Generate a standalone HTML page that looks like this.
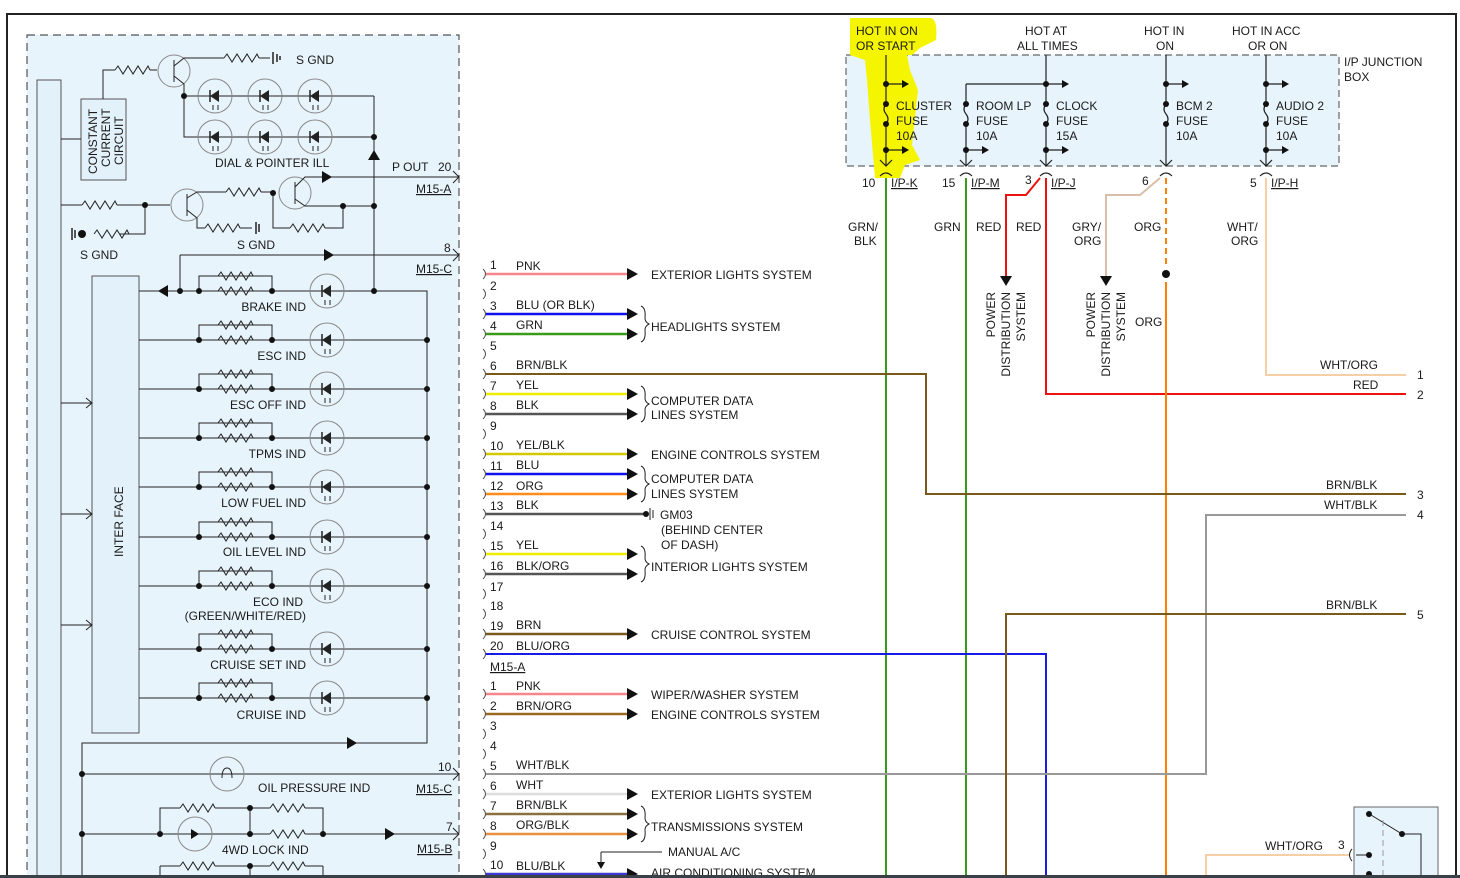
<!DOCTYPE html>
<html><head><meta charset="utf-8"><style>
html,body{margin:0;padding:0;background:#fff;width:1460px;height:878px;overflow:hidden}
svg{display:block}
text{font-family:"Liberation Sans",sans-serif;font-size:12px;fill:#1a1a1a}
</style></head><body>
<svg width="1460" height="878" viewBox="0 0 1460 878" xmlns="http://www.w3.org/2000/svg">
<defs>
<path id="res" d="M0 0 l3 -4 l5 8 l5 -8 l5 8 l5 -8 l5 8 l5 -8 l2 4" fill="none" stroke="#222" stroke-width="1"/>
<g id="led"><circle r="17" fill="none" stroke="#888" stroke-width="1"/><path d="M-5 0 L4 -6 L4 6Z" fill="#222"/><path d="M-5 -6 V6" stroke="#222" stroke-width="1.5"/><path d="M-2 9 v5 M3 9 v5" stroke="#222" stroke-width="1"/></g>
<path id="arr" d="M0 -6 L11 0 L0 6Z" fill="#111"/>
</defs>
<rect x="7" y="14" width="1449" height="870" fill="none" stroke="#222" stroke-width="2"/>
<rect x="27" y="35" width="432" height="850" fill="#e8f4fb" stroke="#555" stroke-dasharray="8,5" stroke-width="1.2"/>
<rect x="37" y="80" width="24" height="800" fill="#e2f1fa" stroke="#555"/>
<rect x="92" y="276" width="47" height="457" fill="#e2f1fa" stroke="#555"/>
<text transform="translate(123,557) rotate(-90)">INTER FACE</text>
<rect x="81" y="99" width="45" height="81" fill="#e2f1fa" stroke="#555"/>
<text transform="translate(97,174) rotate(-90)">CONSTANT</text>
<text transform="translate(110,167) rotate(-90)">CURRENT</text>
<text transform="translate(123,165) rotate(-90)">CIRCUIT</text>
<g stroke="#222" fill="none" stroke-width="1">
<path d="M61 139 H81"/><path d="M103 99 V70 H115"/><use href="#res" x="115" y="70"/><path d="M150 70 H157"/>
<circle cx="174" cy="71" r="16" stroke="#888"/><path d="M174 60 V82 M174 66 L184 58 H224 M174 76 L184 84 V96"/>
<use href="#res" x="224" y="58"/><path d="M259 58 H270"/><path d="M273 52 v12 M277 54 v8 M280 56 v4" stroke-width="1.5"/>
<path d="M184 96 H374 M184 96 V137 H374 M374 96 V291"/>
<path d="M61 205 H82"/><use href="#res" x="82" y="205"/><path d="M117 205 H170"/><path d="M145 205 V234 H120"/><use href="#res" x="94" y="234"/><path d="M72 228 v12 M75 230 v8" stroke-width="1.5"/>
<circle cx="187" cy="205" r="16" stroke="#888"/><path d="M187 194 V216 M187 198 L197 192 H226 M187 210 L197 218 V228 H205"/><use href="#res" x="205" y="228"/><path d="M240 228 H252"/><path d="M256 222 v12 M259 224 v8" stroke-width="1.5"/>
<use href="#res" x="226" y="192"/><path d="M261 192 H273 V228 H290"/><use href="#res" x="290" y="228"/><path d="M325 228 H343 V206"/>
<circle cx="295" cy="193" r="16" stroke="#888"/><path d="M295 182 V204 M295 187 L305 177 H459 M295 199 L305 206 H374"/>
<path d="M180 255 H459 M180 255 V291"/>
<path d="M139 291 H427 V743 H82 V880"/>
<path d="M82 774 H459 M82 834 H270 M305 834 H459"/>
<path d="M160 834 V808 H180"/><use href="#res" x="180" y="808"/><path d="M215 808 H270"/><use href="#res" x="270" y="808"/><path d="M305 808 H323 V834"/>
<path d="M250 808 V834"/>
<circle cx="195" cy="834" r="17" stroke="#888"/><circle cx="227" cy="774" r="17" stroke="#888"/><path d="M222 778 q0 -10 5 -10 q5 0 5 10" />
<path d="M160 866 V880 M250 866 V880 M323 866 V880 M160 866 H180 M215 866 H270 M305 866 H323"/>
<path d="M61 403 H92 M86 398 L92 403 L86 408 M61 514 H92 M86 509 L92 514 L86 519 M61 625 H92 M86 620 L92 625 L86 630"/>
<path d="M453 171 L459 177 L453 183 M453 249 L459 255 L453 261 M453 768 L459 774 L453 780 M453 828 L459 834 L453 840"/>
</g>
<use href="#res" x="270" y="834"/><use href="#res" x="180" y="866"/><use href="#res" x="270" y="866"/>
<g fill="#111"><path d="M322 171 L332 177 L322 183Z"/><path d="M368 160 L374 150 L380 160Z"/><path d="M324 249 L334 255 L324 261Z"/><path d="M168 285 L158 291 L168 297Z"/><path d="M347 737 L357 743 L347 749Z"/><path d="M385 828 L395 834 L385 840Z"/><path d="M191 829 L199 834 L191 839Z"/></g>
<g fill="#111"><circle cx="184" cy="96" r="3"/><circle cx="374" cy="137" r="3"/><circle cx="374" cy="206" r="3"/><circle cx="343" cy="206" r="3"/><circle cx="145" cy="205" r="3"/><circle cx="273" cy="193" r="3"/><circle cx="82" cy="234" r="4"/><circle cx="374" cy="291" r="3"/><circle cx="180" cy="291" r="3"/><circle cx="82" cy="774" r="3"/><circle cx="82" cy="834" r="3"/><circle cx="160" cy="834" r="3"/><circle cx="250" cy="834" r="3"/><circle cx="323" cy="834" r="3"/><circle cx="250" cy="808" r="3"/><circle cx="250" cy="866" r="3"/></g>
<g><use href="#led" x="215" y="96"/><use href="#led" x="265" y="96"/><use href="#led" x="315" y="96"/><use href="#led" x="215" y="137"/><use href="#led" x="265" y="137"/><use href="#led" x="315" y="137"/></g>
<g stroke="#222" fill="none">
<path d="M139 340 H427 M139 389 H427 M139 438 H427 M139 487 H427 M139 537 H427 M139 586 H427 M139 649 H427 M139 698 H427"/>
<path d="M199 291 v-15 H272 v15 M199 340 v-15 H272 v15 M199 389 v-15 H272 v15 M199 438 v-15 H272 v15 M199 487 v-15 H272 v15 M199 537 v-15 H272 v15 M199 586 v-15 H272 v15 M199 649 v-15 H272 v15 M199 698 v-15 H272 v15"/>
</g>
<g>
<use href="#res" x="218" y="276"/><use href="#res" x="218" y="291"/>
<use href="#res" x="218" y="325"/><use href="#res" x="218" y="340"/>
<use href="#res" x="218" y="374"/><use href="#res" x="218" y="389"/>
<use href="#res" x="218" y="423"/><use href="#res" x="218" y="438"/>
<use href="#res" x="218" y="472"/><use href="#res" x="218" y="487"/>
<use href="#res" x="218" y="522"/><use href="#res" x="218" y="537"/>
<use href="#res" x="218" y="571"/><use href="#res" x="218" y="586"/>
<use href="#res" x="218" y="634"/><use href="#res" x="218" y="649"/>
<use href="#res" x="218" y="683"/><use href="#res" x="218" y="698"/>
</g>
<g><use href="#led" x="327" y="291"/><use href="#led" x="327" y="340"/><use href="#led" x="327" y="389"/><use href="#led" x="327" y="438"/><use href="#led" x="327" y="487"/><use href="#led" x="327" y="537"/><use href="#led" x="327" y="586"/><use href="#led" x="327" y="649"/><use href="#led" x="327" y="698"/></g>
<g fill="#111">
<circle cx="199" cy="291" r="3"/><circle cx="272" cy="291" r="3"/><circle cx="199" cy="340" r="3"/><circle cx="272" cy="340" r="3"/><circle cx="427" cy="340" r="3"/>
<circle cx="199" cy="389" r="3"/><circle cx="272" cy="389" r="3"/><circle cx="427" cy="389" r="3"/><circle cx="199" cy="438" r="3"/><circle cx="272" cy="438" r="3"/><circle cx="427" cy="438" r="3"/>
<circle cx="199" cy="487" r="3"/><circle cx="272" cy="487" r="3"/><circle cx="427" cy="487" r="3"/><circle cx="199" cy="537" r="3"/><circle cx="272" cy="537" r="3"/><circle cx="427" cy="537" r="3"/>
<circle cx="199" cy="586" r="3"/><circle cx="272" cy="586" r="3"/><circle cx="427" cy="586" r="3"/><circle cx="199" cy="649" r="3"/><circle cx="272" cy="649" r="3"/><circle cx="427" cy="649" r="3"/>
<circle cx="199" cy="698" r="3"/><circle cx="272" cy="698" r="3"/><circle cx="427" cy="698" r="3"/>
</g>
<g text-anchor="end">
<text x="306" y="311">BRAKE IND</text><text x="306" y="360">ESC IND</text><text x="306" y="409">ESC OFF IND</text><text x="306" y="458">TPMS IND</text><text x="306" y="507">LOW FUEL IND</text><text x="306" y="556">OIL LEVEL IND</text><text x="303" y="606">ECO IND</text><text x="306" y="620">(GREEN/WHITE/RED)</text><text x="306" y="669">CRUISE SET IND</text><text x="306" y="719">CRUISE IND</text>
</g>
<text x="296" y="64">S GND</text><text x="215" y="167">DIAL &amp; POINTER ILL</text><text x="392" y="171">P OUT</text><text x="438" y="171">20</text>
<text x="416" y="193" text-decoration="underline">M15-A</text><text x="237" y="249">S GND</text><text x="80" y="259">S GND</text>
<text x="444" y="252">8</text><text x="416" y="273" text-decoration="underline">M15-C</text>
<text x="258" y="792">OIL PRESSURE IND</text><text x="438" y="771">10</text><text x="416" y="793" text-decoration="underline">M15-C</text>
<text x="222" y="854">4WD LOCK IND</text><text x="446" y="831">7</text><text x="417" y="853" text-decoration="underline">M15-B</text>

<rect x="846" y="55" width="493" height="111" fill="#e8f4fb" stroke="#666" stroke-dasharray="7,4" stroke-width="1.2"/>
<path d="M850 18 H930 Q938 18 936 40 L920 48 L912 55 H907 L910 70 L918 90 L912 145 L920 160 L905 165 L900 178 L875 178 L870 120 L867 80 L865 60 L850 55 Z" fill="#f5f500"/>
<text x="856" y="35">HOT IN ON</text><text x="856" y="50">OR START</text>
<text x="1025" y="35">HOT AT</text><text x="1017" y="50">ALL TIMES</text>
<text x="1144" y="35">HOT IN</text><text x="1156" y="50">ON</text>
<text x="1232" y="35">HOT IN ACC</text><text x="1248" y="50">OR ON</text>
<text x="1344" y="66">I/P JUNCTION</text><text x="1344" y="81">BOX</text>
<g stroke="#222" fill="none" stroke-width="1.2">
<path d="M886 55 V104 M886 124 V166 M886 84 H902 M886 150 H902"/>
<path d="M886 104 q-4 5 0 10 q4 5 0 10"/>
<path d="M966 84 H1046 M966 84 V104 M966 124 V166 M966 150 H982 M966 104 q-4 5 0 10 q4 5 0 10"/>
<path d="M1046 55 V104 M1046 124 V166 M1046 84 H1062 M1046 150 H1062 M1046 104 q-4 5 0 10 q4 5 0 10"/>
<path d="M1166 55 V104 M1166 124 V166 M1166 84 H1182 M1166 104 q-4 5 0 10 q4 5 0 10"/>
<path d="M1266 55 V104 M1266 124 V166 M1266 84 H1282 M1266 150 H1282 M1266 104 q-4 5 0 10 q4 5 0 10"/>
<path d="M880 160 L886 166 L892 160 M960 160 L966 166 L972 160 M1040 160 L1046 166 L1052 160 M1160 160 L1166 166 L1172 160 M1260 160 L1266 166 L1272 160"/>
<path d="M880 176 q6 -6 12 0 M960 176 q6 -6 12 0 M1040 176 q6 -6 12 0 M1160 176 q6 -6 12 0 M1260 176 q6 -6 12 0"/>
</g>
<g fill="#111"><path d="M902 80 L909 84 L902 88Z M902 146 L909 150 L902 154Z M982 146 L989 150 L982 154Z M1062 80 L1069 84 L1062 88Z M1062 146 L1069 150 L1062 154Z M1182 80 L1189 84 L1182 88Z M1282 80 L1289 84 L1282 88Z M1282 146 L1289 150 L1282 154Z"/>
<circle cx="886" cy="84" r="3"/><circle cx="886" cy="104" r="3"/><circle cx="886" cy="124" r="3"/><circle cx="886" cy="150" r="3"/>
<circle cx="966" cy="104" r="3"/><circle cx="966" cy="124" r="3"/><circle cx="966" cy="150" r="3"/>
<circle cx="1046" cy="84" r="3"/><circle cx="1046" cy="104" r="3"/><circle cx="1046" cy="124" r="3"/><circle cx="1046" cy="150" r="3"/>
<circle cx="1166" cy="84" r="3"/><circle cx="1166" cy="104" r="3"/><circle cx="1166" cy="124" r="3"/>
<circle cx="1266" cy="84" r="3"/><circle cx="1266" cy="104" r="3"/><circle cx="1266" cy="124" r="3"/><circle cx="1266" cy="150" r="3"/></g>
<text x="896" y="110">CLUSTER</text><text x="896" y="125">FUSE</text><text x="896" y="140">10A</text>
<text x="976" y="110">ROOM LP</text><text x="976" y="125">FUSE</text><text x="976" y="140">10A</text>
<text x="1056" y="110">CLOCK</text><text x="1056" y="125">FUSE</text><text x="1056" y="140">15A</text>
<text x="1176" y="110">BCM 2</text><text x="1176" y="125">FUSE</text><text x="1176" y="140">10A</text>
<text x="1276" y="110">AUDIO 2</text><text x="1276" y="125">FUSE</text><text x="1276" y="140">10A</text>
<text x="862" y="187">10</text><text x="891" y="187" text-decoration="underline">I/P-K</text>
<text x="942" y="187">15</text><text x="971" y="187" text-decoration="underline">I/P-M</text>
<text x="1025" y="184">3</text><text x="1051" y="187" text-decoration="underline">I/P-J</text>
<text x="1142" y="185">6</text>
<text x="1250" y="187">5</text><text x="1271" y="187" text-decoration="underline">I/P-H</text>
<text x="848" y="231">GRN/</text><text x="854" y="245">BLK</text><text x="934" y="231">GRN</text><text x="976" y="231">RED</text><text x="1016" y="231">RED</text>
<text x="1072" y="231">GRY/</text><text x="1074" y="245">ORG</text><text x="1134" y="231">ORG</text><text x="1227" y="231">WHT/</text><text x="1231" y="245">ORG</text>
<g text-anchor="end">
<text transform="translate(995,292) rotate(-90)">POWER</text><text transform="translate(1010,292) rotate(-90)">DISTRIBUTION</text><text transform="translate(1025,292) rotate(-90)">SYSTEM</text>
<text transform="translate(1095,292) rotate(-90)">POWER</text><text transform="translate(1110,292) rotate(-90)">DISTRIBUTION</text><text transform="translate(1125,292) rotate(-90)">SYSTEM</text>
</g>
<text x="1135" y="326">ORG</text>

<g fill="none" stroke-width="2">
<path d="M886 178 V880" stroke="#3a9a1a"/>
<path d="M966 178 V880" stroke="#3a9a1a"/>
<path d="M1046 178 V394 H1406" stroke="#ee1111"/>
<path d="M1040 178 L1026 195 H1006 V276" stroke="#ee1111"/>
<path d="M1160 178 L1140 195 H1106 V277" stroke="#d9bfa8"/>
<path d="M1166 178 V268" stroke="#ff8000" stroke-dasharray="6,4"/>
<path d="M1166 282 V880" stroke="#ff8000"/>
<path d="M1266 178 V375 H1406" stroke="#f7cfa6"/>
<path d="M485 374 H926 V494 H1406" stroke="#7a5a1a"/>
<path d="M485 654 H1046 V880" stroke="#1a1ae6"/>
<path d="M485 774 H1206 V515 H1406" stroke="#999"/>
<path d="M1006 880 V614 H1406" stroke="#7a5a1a"/>
<path d="M1206 880 V855 H1350" stroke="#f7cfa6"/>
</g>
<g fill="#111"><path d="M1000 276 L1012 276 L1006 286Z"/><path d="M1100 276 L1112 276 L1106 286Z"/><circle cx="1166" cy="274" r="4"/></g>
<text x="1320" y="369">WHT/ORG</text><text x="1353" y="389">RED</text><text x="1326" y="489">BRN/BLK</text><text x="1324" y="509">WHT/BLK</text><text x="1326" y="609">BRN/BLK</text>
<text x="1417" y="379">1</text><text x="1417" y="399">2</text><text x="1417" y="499">3</text><text x="1417" y="519">4</text><text x="1417" y="619">5</text>
<text x="1265" y="850">WHT/ORG</text><text x="1338" y="849">3</text>
<rect x="1354" y="807" width="84" height="80" fill="#e8f4fb" stroke="#666"/>
<g stroke="#222" fill="none"><path d="M1371 815 L1402 834 H1421 V880 M1356 855 H1370" /><path d="M1383 820 V880" stroke="#999" stroke-dasharray="6,4"/><path d="M1352 849 q-5 6 0 12"/></g>
<g fill="#111"><circle cx="1369" cy="814" r="3"/><circle cx="1402" cy="834" r="3"/><circle cx="1369" cy="855" r="3"/><circle cx="1369" cy="874" r="3"/></g>

<g fill="none" stroke-width="2.5">
<path d="M485 274 H630" stroke="#f4868c"/>
<path d="M485 314 H630" stroke="#1010ee"/>
<path d="M485 334 H630" stroke="#3a9a1a"/>
<path d="M485 394 H630" stroke="#eeee00"/>
<path d="M485 414 H630" stroke="#555"/>
<path d="M485 454 H630" stroke="#d4c800"/>
<path d="M485 474 H630" stroke="#1010ee"/>
<path d="M485 494 H630" stroke="#ff8c1a"/>
<path d="M485 514 H645" stroke="#555"/>
<path d="M485 554 H630" stroke="#eeee00"/>
<path d="M485 574 H630" stroke="#555"/>
<path d="M485 634 H630" stroke="#7a5a1a"/>
<path d="M485 694 H630" stroke="#f4868c"/>
<path d="M485 714 H630" stroke="#9a6a20"/>
<path d="M485 794 H630" stroke="#ddd"/>
<path d="M485 814 H630" stroke="#8a7040"/>
<path d="M485 834 H630" stroke="#e89040"/>
<path d="M485 874 H630" stroke="#3a3ad0"/>
</g>
<g fill="#111">
<use href="#arr" x="627" y="274"/><use href="#arr" x="627" y="314"/><use href="#arr" x="627" y="334"/><use href="#arr" x="627" y="394"/><use href="#arr" x="627" y="414"/><use href="#arr" x="627" y="454"/><use href="#arr" x="627" y="474"/><use href="#arr" x="627" y="494"/><use href="#arr" x="627" y="554"/><use href="#arr" x="627" y="574"/><use href="#arr" x="627" y="634"/><use href="#arr" x="627" y="694"/><use href="#arr" x="627" y="714"/><use href="#arr" x="627" y="794"/><use href="#arr" x="627" y="814"/><use href="#arr" x="627" y="834"/><use href="#arr" x="627" y="874"/>
<circle cx="646" cy="514" r="3"/><path d="M597 862 L601 869 L605 862Z"/>
</g>
<g stroke="#222" fill="none">
<path d="M650 508 v12 M653 510 v8"/>
<path d="M601 852 H662 M601 852 V864"/>
<path d="M641 306 q5 2 4 12 q0 4 4 6 q-4 2 -4 6 q1 10 -4 12"/>
<path d="M641 386 q5 2 4 12 q0 4 4 6 q-4 2 -4 6 q1 10 -4 12"/>
<path d="M641 466 q5 2 4 12 q0 4 4 6 q-4 2 -4 6 q1 10 -4 12"/>
<path d="M641 546 q5 2 4 12 q0 4 4 6 q-4 2 -4 6 q1 10 -4 12"/>
<path d="M641 806 q5 2 4 12 q0 4 4 6 q-4 2 -4 6 q1 10 -4 12"/>
<path stroke="#555" d="M483 269 q5 5 0 10 M483 289 q5 5 0 10 M483 309 q5 5 0 10 M483 329 q5 5 0 10 M483 349 q5 5 0 10 M483 369 q5 5 0 10 M483 389 q5 5 0 10 M483 409 q5 5 0 10 M483 429 q5 5 0 10 M483 449 q5 5 0 10 M483 469 q5 5 0 10 M483 489 q5 5 0 10 M483 509 q5 5 0 10 M483 529 q5 5 0 10 M483 549 q5 5 0 10 M483 569 q5 5 0 10 M483 589 q5 5 0 10 M483 609 q5 5 0 10 M483 629 q5 5 0 10 M483 649 q5 5 0 10 M483 689 q5 5 0 10 M483 709 q5 5 0 10 M483 729 q5 5 0 10 M483 749 q5 5 0 10 M483 769 q5 5 0 10 M483 789 q5 5 0 10 M483 809 q5 5 0 10 M483 829 q5 5 0 10 M483 849 q5 5 0 10 M483 869 q5 5 0 10"/>
</g>
<g>
<text x="490" y="269">1</text><text x="516" y="270">PNK</text>
<text x="490" y="290">2</text>
<text x="490" y="310">3</text><text x="516" y="309">BLU  (OR BLK)</text>
<text x="490" y="330">4</text><text x="516" y="329">GRN</text>
<text x="490" y="350">5</text>
<text x="490" y="370">6</text><text x="516" y="369">BRN/BLK</text>
<text x="490" y="390">7</text><text x="516" y="389">YEL</text>
<text x="490" y="410">8</text><text x="516" y="409">BLK</text>
<text x="490" y="430">9</text>
<text x="490" y="450">10</text><text x="516" y="449">YEL/BLK</text>
<text x="490" y="470">11</text><text x="516" y="469">BLU</text>
<text x="490" y="490">12</text><text x="516" y="490">ORG</text>
<text x="490" y="510">13</text><text x="516" y="509">BLK</text>
<text x="490" y="530">14</text>
<text x="490" y="550">15</text><text x="516" y="549">YEL</text>
<text x="490" y="570">16</text><text x="516" y="570">BLK/ORG</text>
<text x="490" y="591">17</text>
<text x="490" y="610">18</text>
<text x="490" y="630">19</text><text x="516" y="629">BRN</text>
<text x="490" y="650">20</text><text x="516" y="650">BLU/ORG</text>
<text x="490" y="671" text-decoration="underline">M15-A</text>
<text x="490" y="690">1</text><text x="516" y="690">PNK</text>
<text x="490" y="710">2</text><text x="516" y="710">BRN/ORG</text>
<text x="490" y="730">3</text><text x="490" y="750">4</text>
<text x="490" y="770">5</text><text x="516" y="769">WHT/BLK</text>
<text x="490" y="790">6</text><text x="516" y="789">WHT</text>
<text x="490" y="810">7</text><text x="516" y="809">BRN/BLK</text>
<text x="490" y="830">8</text><text x="516" y="829">ORG/BLK</text>
<text x="490" y="850">9</text>
<text x="490" y="869">10</text><text x="516" y="870">BLU/BLK</text>
<text x="651" y="279">EXTERIOR LIGHTS SYSTEM</text>
<text x="651" y="331">HEADLIGHTS SYSTEM</text>
<text x="651" y="405">COMPUTER DATA</text><text x="651" y="419">LINES SYSTEM</text>
<text x="651" y="459">ENGINE CONTROLS SYSTEM</text>
<text x="651" y="483">COMPUTER DATA</text><text x="651" y="498">LINES SYSTEM</text>
<text x="660" y="519">GM03</text><text x="661" y="534">(BEHIND CENTER</text><text x="661" y="549">OF DASH)</text>
<text x="651" y="571">INTERIOR LIGHTS SYSTEM</text>
<text x="651" y="639">CRUISE CONTROL SYSTEM</text>
<text x="651" y="699">WIPER/WASHER SYSTEM</text>
<text x="651" y="719">ENGINE CONTROLS SYSTEM</text>
<text x="651" y="799">EXTERIOR LIGHTS SYSTEM</text>
<text x="651" y="831">TRANSMISSIONS SYSTEM</text>
<text x="668" y="856">MANUAL A/C</text>
<text x="651" y="877">AIR CONDITIONING SYSTEM</text>
</g>
<rect x="0" y="875" width="1460" height="3" fill="#3a4048"/>
</svg>
</body></html>
